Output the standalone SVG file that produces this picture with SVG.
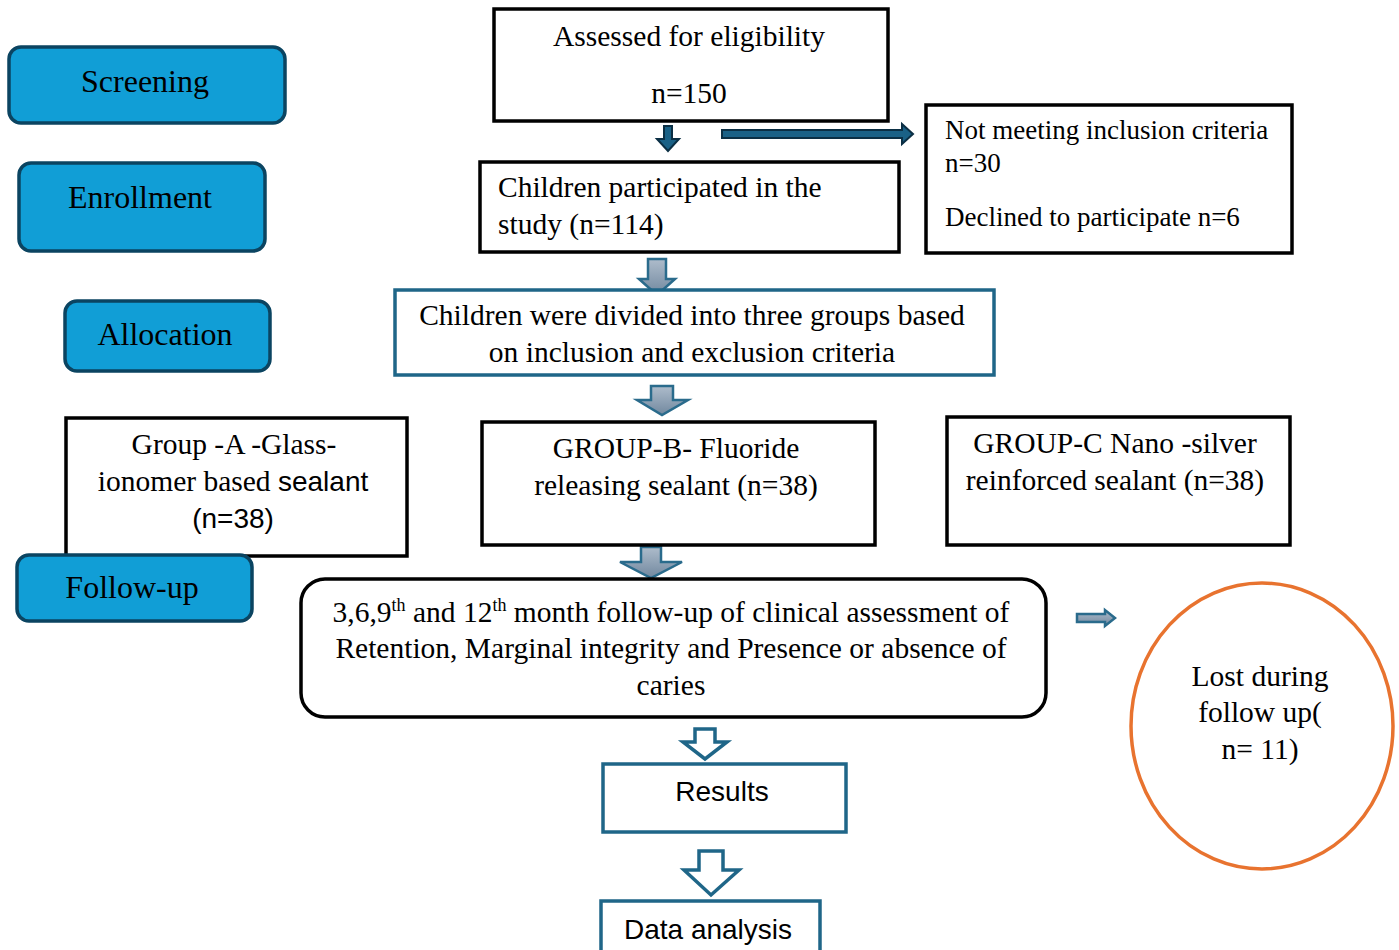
<svg xmlns="http://www.w3.org/2000/svg" width="1399" height="950" viewBox="0 0 1399 950">
<defs>
<linearGradient id="gb" x1="0" y1="0" x2="0" y2="1">
<stop offset="0" stop-color="#aebccb"/>
<stop offset="1" stop-color="#71889f"/>
</linearGradient>
<style>
.stage{fill:#119ed6;stroke:#0b4461;stroke-width:3.5}
.box{fill:#fff;stroke:#000;stroke-width:3.5}
.bbox{fill:#fff;stroke:#1f6688;stroke-width:3.5}
.t{font-family:"Liberation Serif","Times New Roman",serif;font-size:29.5px;fill:#000}
.s{font-family:"Liberation Sans",Arial,sans-serif;font-size:28px;fill:#000}
.st{font-size:32px}
.c{text-anchor:middle}
.dark{fill:#1a6186;stroke:#0b2f44;stroke-width:2}
.grad{fill:url(#gb);stroke:#2a6b8c;stroke-width:2.5}
.open{fill:#fff;stroke:#1f6688;stroke-width:3.5}
</style>
</defs>
<rect width="1399" height="950" fill="#fff"/>

<g id="connectors">
<path class="dark" d="M664,126 H672 V139 H679 L668,151 L657,139 H664 Z"/>
<path class="dark" d="M722,130 H902 V124 L913,134 L902,144 V138 H722 Z"/>
<path class="grad" d="M648,259 H666 V279 H675 L657,295 L639,279 H648 Z"/>
<path class="grad" d="M651,386 H673 V400 H688 L662,415 L637,400 H651 Z"/>
<path class="grad" d="M641,547 H661 V562 H682 L651,578 L620,562 H641 Z"/>
<path class="grad" d="M1077,614 H1105 V610 L1115,618 L1105,626 V622 H1077 Z"/>
<path class="open" d="M695,729 H715 V742 H727 L705,759 L683,742 H695 Z"/>
<path class="open" d="M699,851 H723 V870 H739 L711,895 L684,870 H699 Z"/>
</g>

<g id="stage-screening">
<rect class="stage" x="9" y="47" width="276" height="76" rx="12"/>
<text class="t c st" x="145" y="92">Screening</text>
</g>
<g id="stage-enrollment">
<rect class="stage" x="19" y="163" width="246" height="88" rx="12"/>
<text class="t c st" x="140" y="208">Enrollment</text>
</g>
<g id="stage-allocation">
<rect class="stage" x="65" y="301" width="205" height="70" rx="12"/>
<text class="t c st" x="165" y="345">Allocation</text>
</g>

<g id="assessed">
<rect class="box" x="494" y="9" width="394" height="112"/>
<text class="t c" x="689" y="46">Assessed for eligibility</text>
<text class="t c" x="689" y="103">n=150</text>
</g>

<g id="participated">
<rect class="box" x="480" y="162" width="419" height="90"/>
<text class="t" x="498" y="197">Children participated in the</text>
<text class="t" x="498" y="234">study (n=114)</text>
</g>

<g id="excluded">
<rect class="box" x="926" y="105" width="366" height="148"/>
<text class="t" x="945" y="139" style="font-size:27px">Not meeting inclusion criteria</text>
<text class="t" x="945" y="172" style="font-size:27px">n=30</text>
<text class="t" x="945" y="226" style="font-size:27px">Declined to participate n=6</text>
</g>

<g id="divided">
<rect class="bbox" x="395" y="290" width="599" height="85"/>
<text class="t c" x="692" y="325">Children were divided into three groups based</text>
<text class="t c" x="692" y="362">on inclusion and exclusion criteria</text>
</g>

<g id="group-a">
<rect class="box" x="66" y="418" width="341" height="138"/>
<text class="t c" x="234" y="454">Group -A -Glass-</text>
<text class="t c" x="233" y="491">ionomer based <tspan class="s">sealant</tspan></text>
<text class="s c" x="233" y="528">(n=38)</text>
</g>

<g id="stage-followup">
<rect class="stage" x="17" y="555" width="235" height="66" rx="12"/>
<text class="t c st" x="132" y="598">Follow-up</text>
</g>

<g id="group-b">
<rect class="box" x="482" y="422" width="393" height="123"/>
<text class="t c" x="676" y="458">GROUP-B- Fluoride</text>
<text class="t c" x="676" y="495">releasing sealant (n=38)</text>
</g>

<g id="group-c">
<rect class="box" x="947" y="417" width="343" height="128"/>
<text class="t c" x="1115" y="453">GROUP-C Nano -silver</text>
<text class="t c" x="1115" y="490">reinforced sealant (n=38)</text>
</g>

<g id="followup">
<rect class="box" x="301" y="579" width="745" height="138" rx="24"/>
<text class="t c" x="671" y="622">3,6,9<tspan style="font-size:18px" dy="-11">th</tspan><tspan dy="11"> and 12</tspan><tspan style="font-size:18px" dy="-11">th</tspan><tspan dy="11"> month follow-up of clinical assessment of</tspan></text>
<text class="t c" x="671" y="658">Retention, Marginal integrity and Presence or absence of</text>
<text class="t c" x="671" y="695">caries</text>
</g>

<g id="lost">
<ellipse cx="1262" cy="726" rx="131" ry="143" fill="#fff" stroke="#e8732f" stroke-width="3.5"/>
<text class="t c" x="1260" y="686">Lost during</text>
<text class="t c" x="1260" y="722">follow up(</text>
<text class="t c" x="1260" y="759">n= 11)</text>
</g>

<g id="results">
<rect class="bbox" x="603" y="764" width="243" height="68"/>
<text class="s c" x="722" y="801">Results</text>
</g>

<g id="data-analysis">
<rect class="bbox" x="601" y="901" width="219" height="60"/>
<text class="s c" x="708" y="939">Data analysis</text>
</g>
</svg>
